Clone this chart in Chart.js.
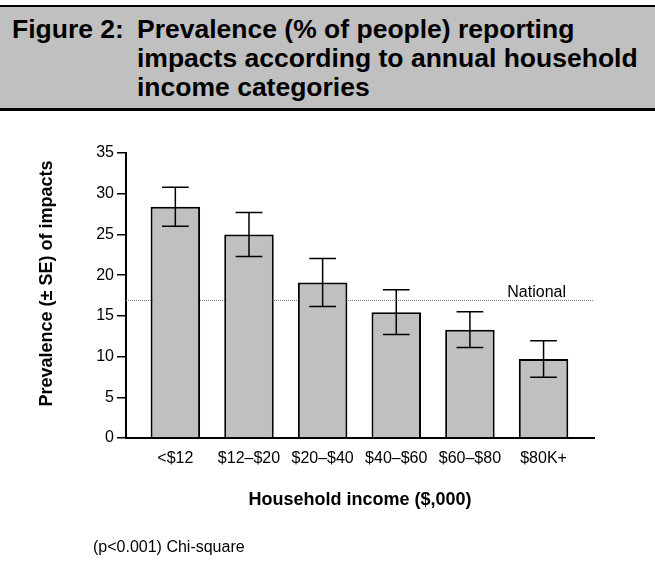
<!DOCTYPE html>
<html>
<head>
<meta charset="utf-8">
<script src="https://cdn.jsdelivr.net/npm/chart.js@4.4.1/dist/chart.umd.min.js"></script>
<style>
  html, body { margin: 0; padding: 0; background: #fff; }
  body { width: 655px; height: 567px; position: relative; overflow: hidden;
         font-family: "Liberation Sans", Arial, sans-serif; color: #000; }
  #wrap { position: absolute; left: 0; top: 0; width: 655px; height: 567px; }
  #head { position: absolute; left: 0; top: 5px; width: 655px; height: 106px; box-sizing: border-box;
          border-top: 2px solid #000; border-bottom: 3px solid #000; background: #c0c0c0; }
  #head .t { position: absolute; font-weight: bold; font-size: 26.5px; line-height: 29px; white-space: nowrap; color: #000; }
  #note { position: absolute; left: 93px; top: 537px; font-size: 16px; line-height: 20px; white-space: nowrap; }
</style>
</head>
<body>
<div id="wrap"><canvas id="c" width="655" height="567"></canvas></div>
<div id="head">
  <div class="t" style="left:12px; top:8px;">Figure 2:</div>
  <div class="t" style="left:137px; top:8px;">Prevalence (% of people) reporting<br>impacts according to annual household<br>income categories</div>
</div>
<div id="note">(p&lt;0.001) Chi-square</div>

<script>
// Income brackets ($,000) and the share of people reporting impacts in each
const categories = ['<$12', '$12–$20', '$20–$40', '$40–$60', '$60–$80', '$80K+'];
const prevalence = [28.4, 25.0, 19.1, 15.45, 13.3, 9.7];
const standardError = [2.4, 2.7, 2.95, 2.75, 2.2, 2.25];
const nationalPrevalence = 16.9;
const yTicks = [0, 5, 10, 15, 20, 25, 30, 35];

const FONT = '"Liberation Sans", Arial, sans-serif';

// National reference line (behind the bars), SE whiskers (on top) and the y-axis title
const overlay = {
  id: 'overlay',
  beforeDatasetsDraw(chart) {
    const { ctx, chartArea, scales } = chart;
    const y = Math.round(scales.y.getPixelForValue(nationalPrevalence)) + 0.5;
    ctx.save();
    ctx.strokeStyle = '#7a7a7a';
    ctx.lineWidth = 1;
    ctx.setLineDash([1, 1]);
    ctx.beginPath();
    ctx.moveTo(chartArea.left, y);
    ctx.lineTo(chartArea.right, y);
    ctx.stroke();
    ctx.setLineDash([]);
    ctx.fillStyle = '#000';
    ctx.font = '16px ' + FONT;
    ctx.textAlign = 'right';
    ctx.textBaseline = 'alphabetic';
    ctx.fillText('National', chartArea.right - 28, y - 4);
    ctx.restore();
  },
  afterDatasetsDraw(chart) {
    const { ctx, scales } = chart;
    const meta = chart.getDatasetMeta(0);
    ctx.save();
    ctx.strokeStyle = '#000';
    ctx.lineWidth = 1.5;
    meta.data.forEach((bar, i) => {
      const x = bar.x;
      const half = bar.width * 0.27;
      const yHi = scales.y.getPixelForValue(prevalence[i] + standardError[i]);
      const yLo = scales.y.getPixelForValue(prevalence[i] - standardError[i]);
      ctx.beginPath();
      ctx.moveTo(x, yHi); ctx.lineTo(x, yLo);
      ctx.moveTo(x - half, yHi); ctx.lineTo(x + half, yHi);
      ctx.moveTo(x - half, yLo); ctx.lineTo(x + half, yLo);
      ctx.stroke();
    });
    ctx.restore();
  },
  afterDraw(chart) {
    const { ctx, chartArea } = chart;
    ctx.save();
    ctx.translate(47, (chartArea.top + chartArea.bottom) / 2 - 12);
    ctx.rotate(-Math.PI / 2);
    ctx.fillStyle = '#000';
    ctx.font = 'bold 18px ' + FONT;
    ctx.textAlign = 'center';
    ctx.textBaseline = 'middle';
    ctx.fillText('Prevalence (± SE) of impacts', 0, 0);
    ctx.restore();
  }
};

new Chart(document.getElementById('c'), {
  type: 'bar',
  data: {
    datasets: [{
      data: prevalence.map((v, i) => ({ x: i, y: v })),
      backgroundColor: '#c0c0c0',
      borderColor: '#000',
      borderWidth: 2,
      borderSkipped: 'start',
      categoryPercentage: 1,
      barPercentage: 0.672
    }]
  },
  options: {
    responsive: false,
    animation: false,
    devicePixelRatio: 1,
    layout: { padding: { top: 153, right: 61, left: 0, bottom: 0 } },
    plugins: { legend: { display: false }, tooltip: { enabled: false } },
    scales: {
      x: {
        type: 'linear',
        offset: false,
        min: -0.67,
        max: 5.685,
        afterBuildTicks: s => { s.ticks = categories.map((_, i) => ({ value: i })); },
        afterFit: s => { s.height = 129; },
        grid: { display: false, drawTicks: false, offset: false },
        border: { display: true, color: '#000', width: 2 },
        ticks: {
          callback: v => categories[v],
          color: '#000',
          font: { size: 16, family: FONT },
          padding: 11,
          maxRotation: 0,
          autoSkip: false
        },
        title: {
          display: true,
          text: 'Household income ($,000)',
          color: '#000',
          font: { size: 18, weight: 'bold', family: FONT },
          padding: { top: 0, bottom: 56 }
        }
      },
      y: {
        min: 0,
        max: 35,
        afterBuildTicks: s => { s.ticks = yTicks.map(v => ({ value: v })); },
        afterFit: s => { s.width = 126; },
        grid: { drawOnChartArea: false, drawTicks: true, tickLength: 9, color: '#000', lineWidth: 1.5 },
        border: { display: true, color: '#000', width: 2 },
        ticks: { color: '#000', font: { size: 16, family: FONT }, padding: 3 }
      }
    }
  },
  plugins: [overlay]
});
</script>
</body>
</html>
